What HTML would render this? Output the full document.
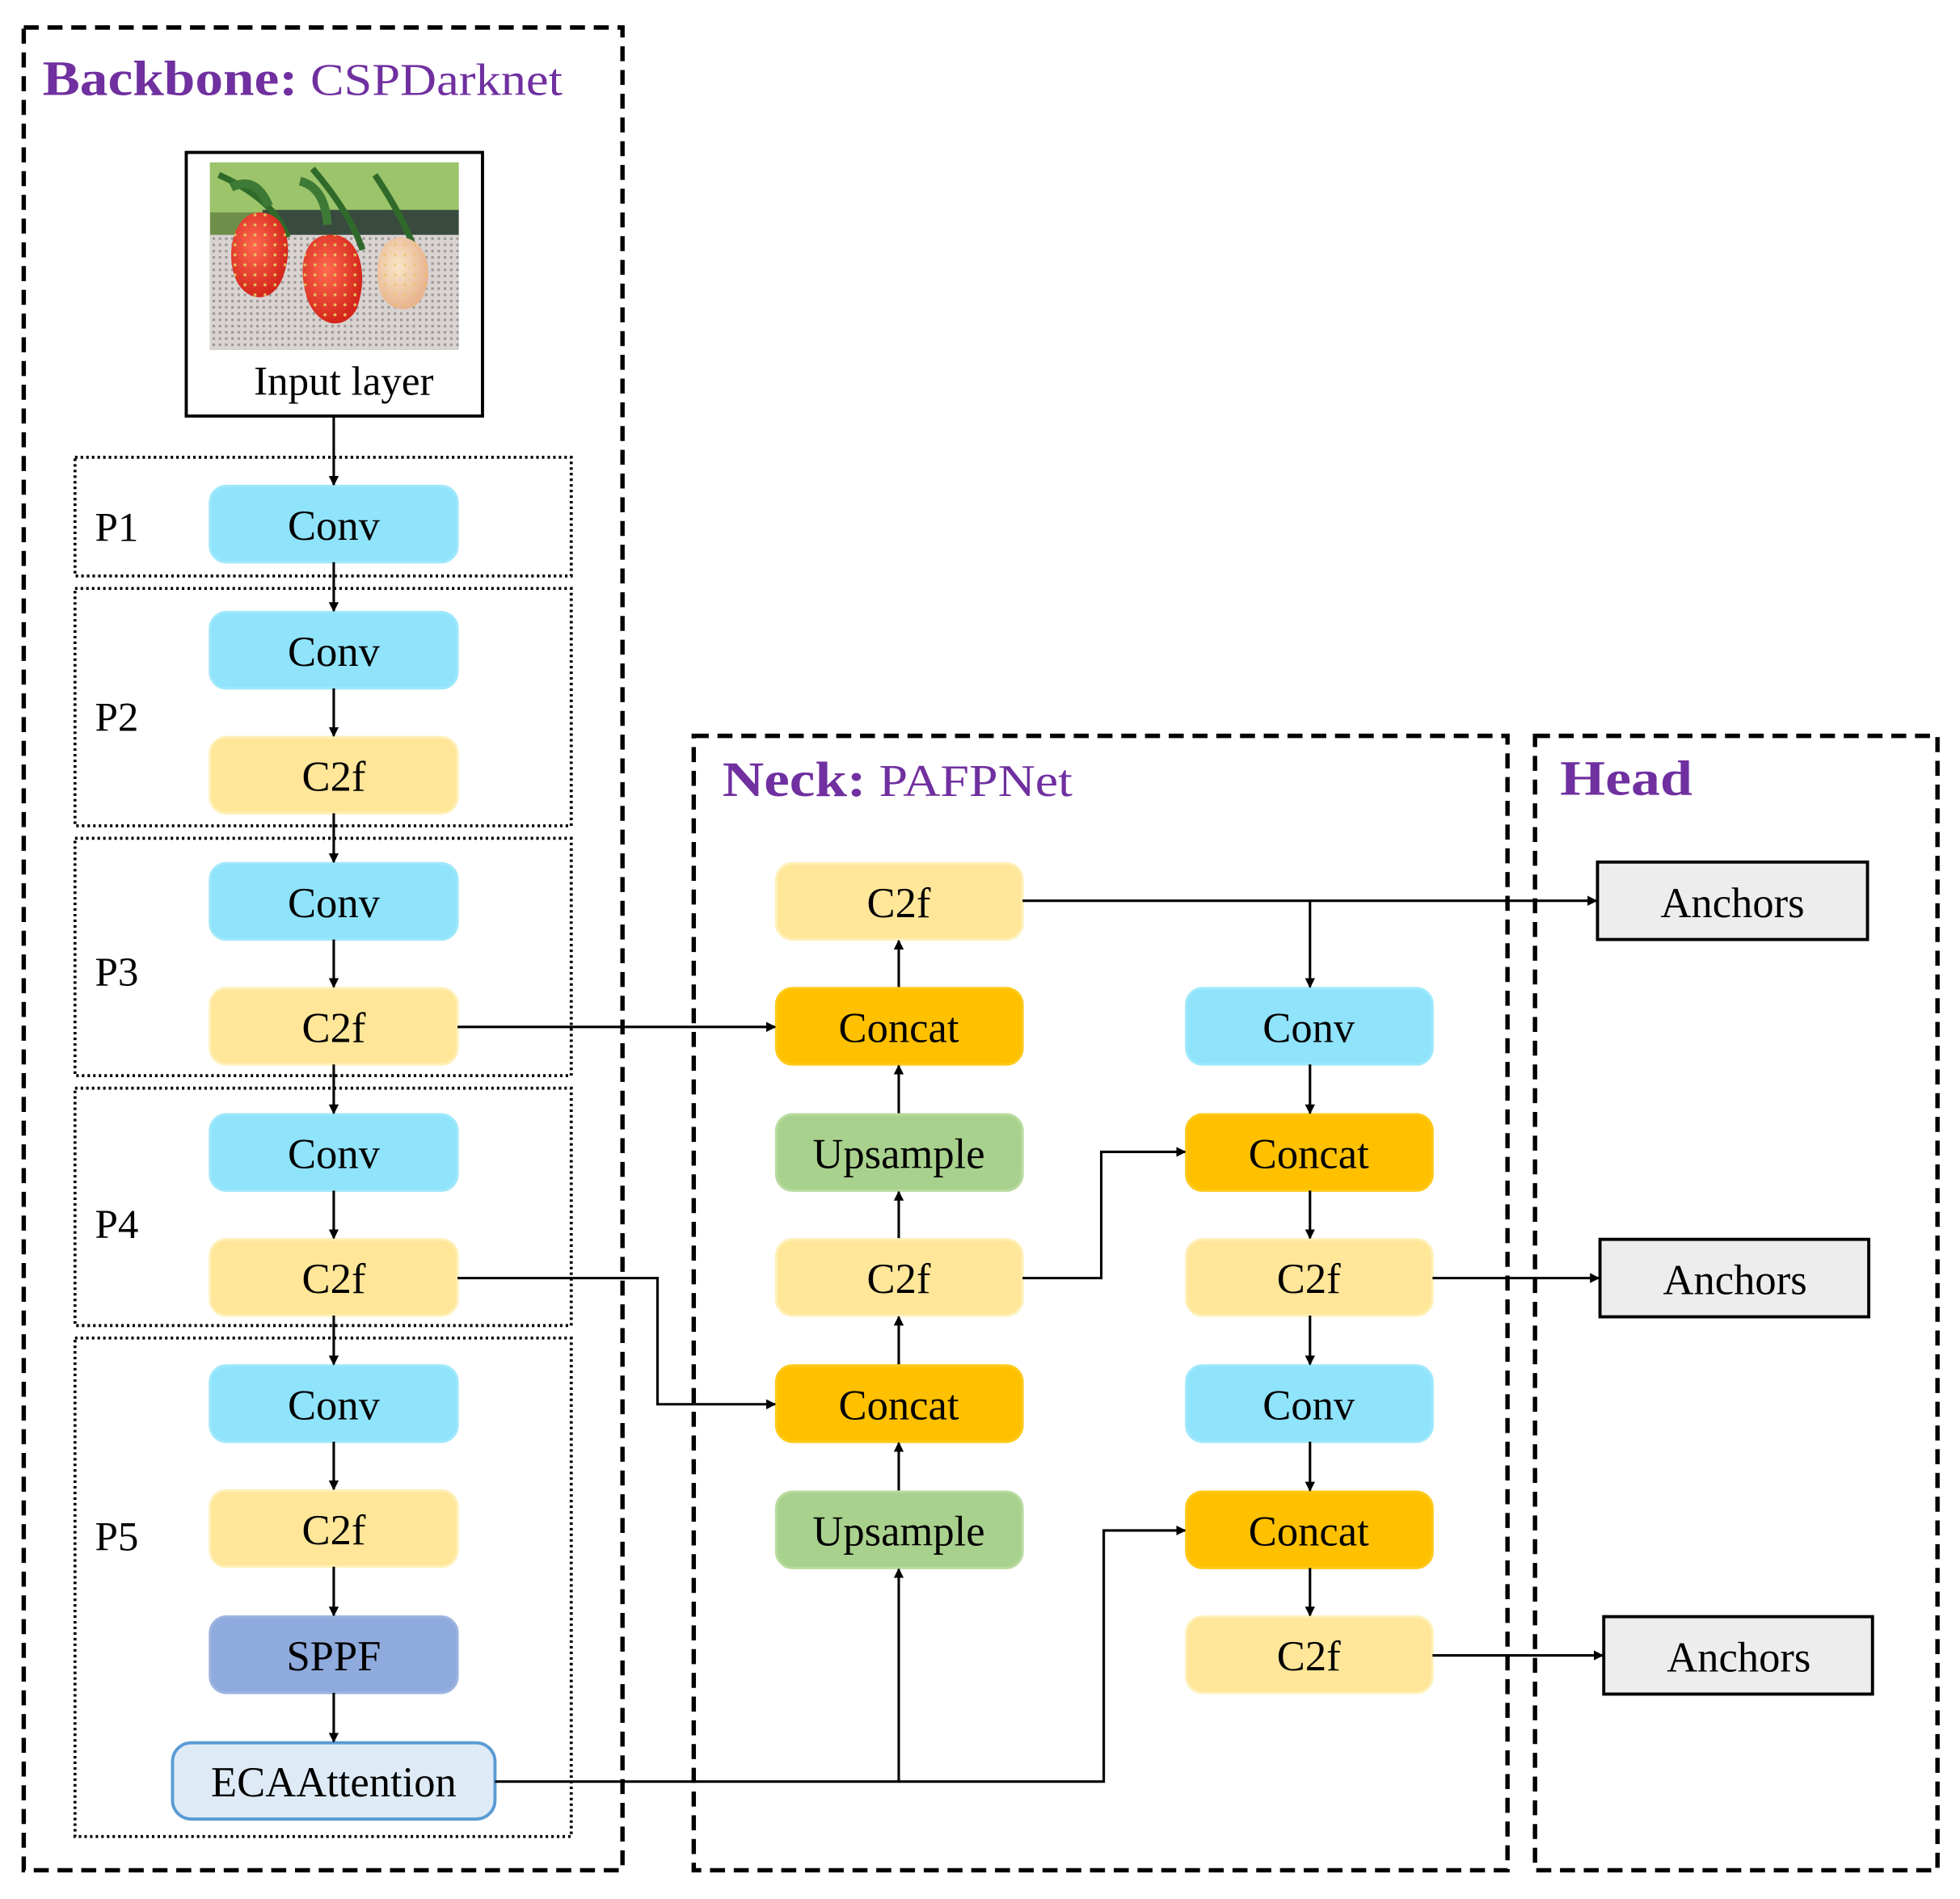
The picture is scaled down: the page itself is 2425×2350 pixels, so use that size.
<!DOCTYPE html>
<html><head><meta charset="utf-8"><style>html,body{margin:0;padding:0;background:#fff}svg{display:block}</style></head>
<body>
<svg width="2425" height="2350" viewBox="0 0 1568 1520" preserveAspectRatio="none" xmlns="http://www.w3.org/2000/svg" font-family="'Liberation Serif', serif">
<defs>
<marker id="a" markerWidth="8" markerHeight="8" refX="7" refY="4" orient="auto" markerUnits="userSpaceOnUse"><path d="M0,0 L8,4 L0,8 Z" fill="#000"/></marker>
<pattern id="mesh" width="5" height="5" patternUnits="userSpaceOnUse"><rect width="5" height="5" fill="#d9d4d2"/><rect width="2" height="2" fill="#9b9594"/></pattern>
<pattern id="seeds" width="8" height="8" patternUnits="userSpaceOnUse"><circle cx="4" cy="4" r="1.2" fill="#e8c060"/></pattern>
<radialGradient id="red" cx="40%" cy="40%" r="60%"><stop offset="0" stop-color="#ff6a50"/><stop offset="1" stop-color="#d4261c"/></radialGradient>
<radialGradient id="pale" cx="40%" cy="40%" r="60%"><stop offset="0" stop-color="#f8e6c8"/><stop offset="1" stop-color="#e9b490"/></radialGradient>
</defs>
<g fill="none" stroke="#000" stroke-width="3.5" stroke-dasharray="12,7">
<rect x="19" y="22" width="479" height="1475"/>
<rect x="555" y="589" width="651" height="908"/>
<rect x="1228" y="589" width="322" height="908"/>
</g>
<g fill="none" stroke="#000" stroke-width="2.4" stroke-dasharray="2,2.5">
<rect x="60" y="366" width="397" height="95"/>
<rect x="60" y="471" width="397" height="190"/>
<rect x="60" y="671" width="397" height="190"/>
<rect x="60" y="871" width="397" height="190"/>
<rect x="60" y="1071" width="397" height="399"/>
</g>
<text x="34" y="76" font-size="40" font-weight="bold" fill="#7030A0" textLength="416" lengthAdjust="spacingAndGlyphs">Backbone:<tspan font-weight="normal" font-size="36"> CSPDarknet</tspan></text>
<text x="578" y="637" font-size="40" font-weight="bold" fill="#7030A0" textLength="280" lengthAdjust="spacingAndGlyphs">Neck:<tspan font-weight="normal" font-size="36"> PAFPNet</tspan></text>
<text x="1248" y="636" font-size="40" font-weight="bold" fill="#7030A0" textLength="106" lengthAdjust="spacingAndGlyphs">Head</text>
<rect x="149" y="122" width="237" height="211" fill="#fff" stroke="#000" stroke-width="2.5"/>
<rect x="168" y="130" width="199" height="150" fill="#6e8f4a"/>
<rect x="168" y="130" width="199" height="40" fill="#9cc46a"/>
<rect x="210" y="168" width="157" height="22" fill="#394a3e"/>
<rect x="168" y="188" width="199" height="92" fill="url(#mesh)"/>
<path d="M175,140 Q220,160 230,190 M250,135 Q280,170 290,200 M300,140 Q320,170 330,195" stroke="#2f6a2a" stroke-width="5" fill="none"/>
<path d="M185,150 Q205,140 215,165 M240,145 Q260,150 262,180" stroke="#3d7a35" stroke-width="7" fill="none"/>
<path d="M208,170 C230,170 236,200 225,225 C215,245 195,240 188,222 C180,200 188,170 208,170 Z" fill="url(#red)"/>
<path d="M208,170 C230,170 236,200 225,225 C215,245 195,240 188,222 C180,200 188,170 208,170 Z" fill="url(#seeds)"/>
<path d="M262,188 C288,185 296,220 285,248 C275,265 255,262 246,240 C238,215 242,190 262,188 Z" fill="url(#red)"/>
<path d="M262,188 C288,185 296,220 285,248 C275,265 255,262 246,240 C238,215 242,190 262,188 Z" fill="url(#seeds)"/>
<path d="M320,190 C342,190 348,220 338,238 C330,252 312,250 305,236 C298,218 302,190 320,190 Z" fill="url(#pale)"/>
<path d="M320,190 C342,190 348,220 338,238 C330,252 312,250 305,236 C298,218 302,190 320,190 Z" fill="url(#seeds)" opacity="0.6"/>
<text x="275" y="316" font-size="33" text-anchor="middle">Input layer</text>
<g font-size="33"><text x="76" y="433">P1</text><text x="76" y="585">P2</text><text x="76" y="789">P3</text><text x="76" y="991">P4</text><text x="76" y="1241">P5</text></g>
<g font-size="34" text-anchor="middle">
<g fill="#8FE3FB" stroke="#9fe8fc" stroke-width="2">
<rect x="168" y="389" width="198" height="61" rx="13"/>
<rect x="168" y="490" width="198" height="61" rx="13"/>
<rect x="168" y="691" width="198" height="61" rx="13"/>
<rect x="168" y="892" width="198" height="61" rx="13"/>
<rect x="168" y="1093" width="198" height="61" rx="13"/>
<rect x="949" y="791" width="197" height="61" rx="13"/>
<rect x="949" y="1093" width="197" height="61" rx="13"/>
</g>
<g fill="#FFE699" stroke="#fff0b8" stroke-width="2">
<rect x="168" y="590" width="198" height="61" rx="13"/>
<rect x="168" y="791" width="198" height="61" rx="13"/>
<rect x="168" y="992" width="198" height="61" rx="13"/>
<rect x="168" y="1193" width="198" height="61" rx="13"/>
<rect x="621" y="691" width="197" height="61" rx="13"/>
<rect x="621" y="992" width="197" height="61" rx="13"/>
<rect x="949" y="992" width="197" height="61" rx="13"/>
<rect x="949" y="1294" width="197" height="61" rx="13"/>
</g>
<g fill="#FFC000" stroke="#ffc919" stroke-width="2">
<rect x="621" y="791" width="197" height="61" rx="13"/>
<rect x="621" y="1093" width="197" height="61" rx="13"/>
<rect x="949" y="892" width="197" height="61" rx="13"/>
<rect x="949" y="1194" width="197" height="61" rx="13"/>
</g>
<g fill="#A9D18E" stroke="#b8dba0" stroke-width="2">
<rect x="621" y="892" width="197" height="61" rx="13"/>
<rect x="621" y="1194" width="197" height="61" rx="13"/>
</g>
<rect x="168" y="1294" width="198" height="61" rx="13" fill="#8FAADC" stroke="#9cb5e0" stroke-width="2"/>
<rect x="138" y="1395" width="258" height="61" rx="15" fill="#DEEBF7" stroke="#5B9BD5" stroke-width="2.5"/>
<g fill="#EDEDED" stroke="#000" stroke-width="2.5">
<rect x="1278" y="690" width="216" height="62"/>
<rect x="1280" y="992" width="215" height="62"/>
<rect x="1283" y="1294" width="215" height="62"/>
</g>
<g fill="#000">
<text x="267" y="432">Conv</text><text x="267" y="533">Conv</text><text x="267" y="633">C2f</text>
<text x="267" y="734">Conv</text><text x="267" y="834">C2f</text><text x="267" y="935">Conv</text>
<text x="267" y="1035">C2f</text><text x="267" y="1136">Conv</text><text x="267" y="1236">C2f</text>
<text x="267" y="1337">SPPF</text><text x="267" y="1438">ECAAttention</text>
<text x="719" y="734">C2f</text><text x="719" y="834">Concat</text><text x="719" y="935">Upsample</text>
<text x="719" y="1035">C2f</text><text x="719" y="1136">Concat</text><text x="719" y="1237">Upsample</text>
<text x="1047" y="834">Conv</text><text x="1047" y="935">Concat</text><text x="1047" y="1035">C2f</text>
<text x="1047" y="1136">Conv</text><text x="1047" y="1237">Concat</text><text x="1047" y="1337">C2f</text>
<text x="1386" y="734">Anchors</text><text x="1388" y="1036">Anchors</text><text x="1391" y="1338">Anchors</text>
</g>
</g>
<g fill="none" stroke="#000" stroke-width="2" marker-end="url(#a)">
<path d="M267,333 V388"/>
<path d="M267,450 V489"/>
<path d="M267,551 V589"/>
<path d="M267,651 V690"/>
<path d="M267,752 V790"/>
<path d="M267,852 V891"/>
<path d="M267,953 V991"/>
<path d="M267,1053 V1092"/>
<path d="M267,1154 V1192"/>
<path d="M267,1254 V1293"/>
<path d="M267,1355 V1394"/>
<path d="M366,822 H620"/>
<path d="M366,1023 H526 V1124 H620"/>
<path d="M396,1426 H719 V1256"/>
<path d="M719,1426 H883 V1225 H948"/>
<path d="M719,1193 V1155"/>
<path d="M719,1092 V1054"/>
<path d="M719,991 V954"/>
<path d="M719,891 V853"/>
<path d="M719,790 V753"/>
<path d="M818,721 H1277"/>
<path d="M1048,721 V790"/>
<path d="M1048,852 V891"/>
<path d="M1048,953 V991"/>
<path d="M1048,1053 V1092"/>
<path d="M1048,1154 V1193"/>
<path d="M1048,1255 V1293"/>
<path d="M818,1023 H881 V922 H948"/>
<path d="M1146,1023 H1279"/>
<path d="M1146,1325 H1282"/>
</g>
</svg>
</body></html>
